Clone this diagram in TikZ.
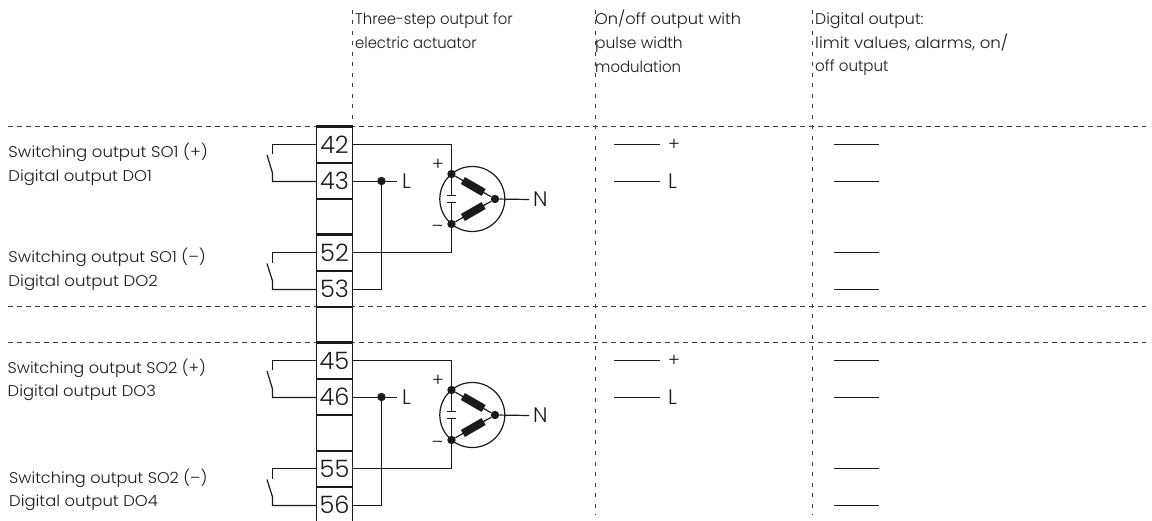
\documentclass[tikz,border=0pt]{standalone}
\usepackage{fontspec}
\setmainfont{Poppins}[UprightFont=* Light]
\usetikzlibrary{calc}
\definecolor{ink}{HTML}{1A1A1A}
\newcommand{\sx}[2]{\scalebox{#1}[1]{#2}}
\tikzset{
  wire/.style={draw=ink,line width=1.2pt,line join=miter},
  dashrule/.style={draw=ink!85,line width=0.9pt,dash pattern=on 5pt off 4pt},
  vdash/.style={draw=ink!85,line width=0.9pt,dash pattern=on 4pt off 6.5pt},
  term/.style={draw=ink,line width=1.2pt,minimum width=36pt,minimum height=36pt,inner sep=0pt,font=\fontsize{24}{24}\selectfont,text=ink},
  cell/.style={draw=ink,line width=1.2pt,minimum width=36pt,minimum height=36pt,inner sep=0pt},
  lbl/.style={anchor=base west,inner sep=0pt,font=\fontsize{15.5}{15.5}\selectfont,text=ink},
  big/.style={lbl,font=\fontsize{21}{21}\selectfont},
  sym/.style={lbl,anchor=center,font=\fontsize{18}{18}\selectfont},
  dotn/.style={circle,fill=ink,inner sep=0pt,minimum size=8.4pt},
  res/.style={draw=none,fill=ink,minimum width=24pt,minimum height=8pt,inner sep=0pt},
  ring/.style={circle,draw=ink,line width=1.2pt,minimum size=65pt,inner sep=0pt},
  plate/.style={draw=ink,line width=1.2pt},
}
\newcommand{\wiringblock}[5]{%
  \begin{scope}[yshift=-#5pt]
    \node[term] (t#1) at (334.5,145) {#1};
    \node[term] (t#2) at (334.5,181) {#2};
    \node[cell] (e#1) at (334.5,217) {};
    \node[term] (t#3) at (334.5,253) {#3};
    \node[term] (t#4) at (334.5,289) {#4};
    \draw[draw=ink,line width=1.8pt] (t#1.north west) -- (t#1.north east);
    \draw[draw=ink,line width=1.8pt] (t#3.north west) -- (t#3.north east);
    % contacts
    \coordinate (sa#1) at (272.5,144.5);
    \coordinate (sb#1) at (272.5,154);
    \coordinate (sc#1) at (267,155);
    \coordinate (sd#1) at (272.5,173);
    \coordinate (se#1) at (272.5,181.5);
    \draw[wire] (t#1.west |- sa#1) -- (sa#1) -- (sb#1);
    \draw[wire] (sc#1) -- (sd#1) -- (se#1) -- (t#2.west |- se#1);
    \coordinate (sa#3) at (272.5,252.5);
    \coordinate (sb#3) at (272.5,263);
    \coordinate (sc#3) at (267,263.5);
    \coordinate (sd#3) at (272.5,281);
    \coordinate (se#3) at (272.5,289.5);
    \draw[wire] (t#3.west |- sa#3) -- (sa#3) -- (sb#3);
    \draw[wire] (sc#3) -- (sd#3) -- (se#3) -- (t#4.west |- se#3);
    % actuator
    \node[ring] (m#1) at (472.3,199) {};
    \node[dotn] (p#1) at (451.5,174) {};
    \node[dotn] (q#1) at (451.5,224) {};
    \node[dotn] (r#1) at (495,199) {};
    \node[res,rotate=-30] (ra#1) at ($(p#1)!0.5!(r#1)$) {};
    \node[res,rotate=30] (rb#1) at ($(q#1)!0.5!(r#1)$) {};
    \draw[wire] (p#1) -- (r#1) -- (q#1);
    \coordinate (ca#1) at (451.5,195.2);
    \coordinate (cb#1) at (451.5,202.8);
    \draw[wire] (p#1) -- (ca#1);
    \draw[wire] (cb#1) -- (q#1);
    \draw[plate] ($(ca#1)+(-4.3,0)$) -- ($(ca#1)+(4.3,0)$);
    \draw[plate] ($(cb#1)+(-4.3,0)$) -- ($(cb#1)+(4.3,0)$);
    \coordinate (ka#1) at (451.5,144.5);
    \coordinate (kb#1) at (451.5,252.5);
    \draw[wire] (t#1.east |- ka#1) -- (ka#1) -- (p#1);
    \draw[wire] (t#3.east |- kb#1) -- (kb#1) -- (q#1);
    % L feed
    \node[dotn] (j#1) at (381.5,181) {};
    \coordinate (jw#1) at (381.5,181.5);
    \coordinate (lend#1) at (396.7,181.5);
    \coordinate (lb#1) at (381.5,289.5);
    \draw[wire] (t#2.east |- jw#1) -- (lend#1);
    \draw[wire] (j#1) -- (lb#1) -- (t#4.east |- lb#1);
    \node[big] (ll#1) at (402,189) {L};
    % N
    \coordinate (nend#1) at (529,199.5);
    \draw[wire] (r#1) -- (nend#1);
    \node[big] (nn#1) at (533,206.5) {N};
    \node[sym] (plus#1) at (438,165) {+};
    \node[sym] (minus#1) at (437.5,229) {–};
    % on/off column
    \coordinate (oa#1) at (614,144.5); \coordinate (ob#1) at (660,144.5);
    \coordinate (oc#1) at (614,181.5); \coordinate (od#1) at (660,181.5);
    \draw[wire] (oa#1) -- (ob#1);
    \draw[wire] (oc#1) -- (od#1);
    \node[sym] (op#1) at (674,145) {+};
    \node[big] (ol#1) at (668,189) {L};
    % digital column
    \foreach \yy/\nn in {144.5/a,181.5/b,252.5/c,289.5/d}{
      \coordinate (da\nn#1) at (834,\yy);
      \coordinate (db\nn#1) at (879,\yy);
      \draw[wire] (da\nn#1) -- (db\nn#1);
    }
  \end{scope}
}
\begin{document}
\begin{tikzpicture}[x=1pt,y=-1pt]
\useasboundingbox (0,0) rectangle (1152,521);
% rules
\coordinate (h1a) at (8,126.5); \coordinate (h1b) at (1146,126.5);
\coordinate (h2a) at (8,306.5); \coordinate (h2b) at (1146,306.5);
\coordinate (h3a) at (8,342.5); \coordinate (h3b) at (1146,342.5);
\draw[dashrule] (h1a) -- (h1b);
\draw[dashrule] (h2a) -- (h2b);
\draw[dashrule] (h3a) -- (h3b);
\coordinate (v1a) at (352.5,10); \coordinate (v1b) at (352.5,127);
\coordinate (v2a) at (595.5,10); \coordinate (v2b) at (595.5,515);
\coordinate (v3a) at (812.5,10); \coordinate (v3b) at (812.5,515);
\draw[vdash] (v1a) -- (v1b);
\draw[vdash] (v2a) -- (v2b);
\draw[vdash] (v3a) -- (v3b);
% blocks
\wiringblock{42}{43}{52}{53}{0}
\node[cell] (gap) at (334.5,325) {};
\wiringblock{45}{46}{55}{56}{216}
% header
\node[lbl] (h1) at (355,25) {\sx{.958}{Three-step output for}};
\node[lbl] (h1s) at (355,49) {\sx{.953}{electric actuator}};
\node[lbl] (h2) at (595,25) {\sx{1.043}{On/off output with}};
\node[lbl] (h2s) at (595,49) {pulse width};
\node[lbl] (h2t) at (595,72.5) {\sx{.966}{modulation}};
\node[lbl] (h3) at (815,25) {\sx{1.02}{Digital output:}};
\node[lbl] (h3s) at (815,48.5) {\sx{1.07}{limit values, alarms, on/}};
\node[lbl] (h3t) at (815,72) {\sx{.973}{off output}};
% left labels
\node[lbl] (a1) at (8.3,158) {\sx{1.07}{Switching output SO1 (+)}};
\node[lbl] (a2) at (8.3,181.5) {\sx{1.06}{Digital output DO1}};
\node[lbl] (a3) at (8.3,263) {\sx{1.06}{Switching output SO1 (–)}};
\node[lbl] (a4) at (8.3,287) {\sx{1.07}{Digital output DO2}};
\node[lbl] (b1) at (7.5,373.5) {\sx{1.04}{Switching output SO2 (+)}};
\node[lbl] (b2) at (7.5,396.7) {\sx{1.06}{Digital output DO3}};
\node[lbl] (b3) at (9,483) {\sx{1.04}{Switching output SO2 (–)}};
\node[lbl] (b4) at (9,506.7) {\sx{1.06}{Digital output DO4}};
\end{tikzpicture}
\end{document}
